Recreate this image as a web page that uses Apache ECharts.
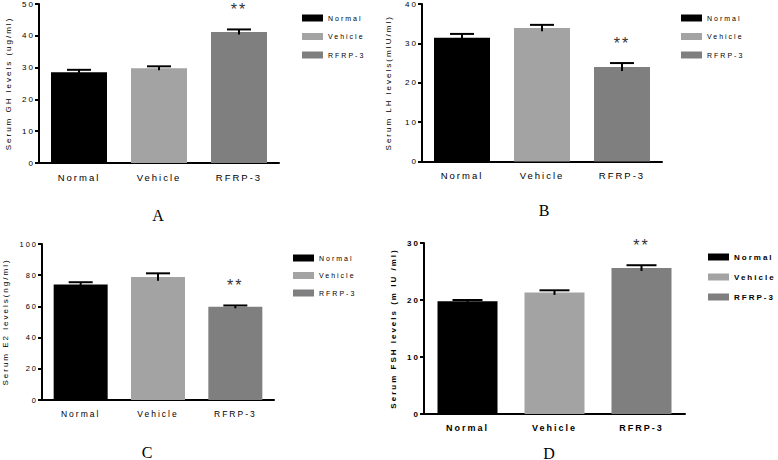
<!DOCTYPE html>
<html><head><meta charset="utf-8">
<script src="https://cdn.jsdelivr.net/npm/echarts@6/dist/echarts.min.js"></script>
<style>
html,body{margin:0;padding:0;background:#fff;}
#c{width:778px;height:460px;letter-spacing:2px;}
</style></head><body><div id="c"></div>
<script>
// ---- data ----
const groups = ['Normal', 'Vehicle', 'RFRP-3'];
const ghMean = [28.5, 29.8, 41.2];
const ghErr = [0.8, 0.6, 0.8];
const lhMean = [31.4, 33.9, 24.0];
const lhErr = [1.0, 0.8, 1.0];
const e2Mean = [74.0, 78.8, 59.7];
const e2Err = [1.5, 2.4, 0.9];
const fshMean = [19.8, 21.3, 25.6];
const fshErr = [0.2, 0.4, 0.5];
const signif = ['', '', '**'];
const panelLetters = ['A', 'B', 'C', 'D'];
const axisNames = ['Serum GH levels (ug/ml)', 'Serum LH levels(mIU/ml)', 'Serum E2 levels(ng/ml)', 'Serum FSH levels (m IU /ml)'];
const axisMax = [50, 40, 100, 30];
const axisInterval = [10, 10, 20, 10];

// ---- layout / style ----
const colors = ['#000000', '#a3a3a3', '#7f7f7f'];
const FONT = '"Liberation Sans", Arial, sans-serif';
const panels = [
  {mean: ghMean, err: ghErr, grid: {left: 39, top: 3, width: 240, height: 160}, nameGap: 27, barWidth: 56, capW: 24,
   legend: {left: 297, top: 8.5, itemGap: 9.5, lh: 9, fs: 7}, bold: false, letterPos: [159, 215], tickFs: 8, catFs: 9.5},
  {mean: lhMean, err: lhErr, grid: {left: 422, top: 3, width: 240, height: 158.5}, nameGap: 30, barWidth: 56, capW: 24,
   legend: {left: 676, top: 8.5, itemGap: 9.5, lh: 9, fs: 7}, bold: false, letterPos: [545, 210], tickFs: 8, catFs: 9.5},
  {mean: e2Mean, err: e2Err, grid: {left: 39, top: 244, width: 235, height: 156}, nameGap: 33, barWidth: 54, capW: 24,
   legend: {left: 288, top: 248.5, itemGap: 8.5, lh: 9, fs: 7}, bold: false, letterPos: [148, 452], tickFs: 7.5, catFs: 8.5},
  {mean: fshMean, err: fshErr, grid: {left: 424, top: 243, width: 261, height: 171}, nameGap: 27, barWidth: 60, capW: 30,
   legend: {left: 703, top: 247, itemGap: 10, lh: 10, fs: 8}, bold: true, letterPos: [550, 453], tickFs: 8, catFs: 9}
];

const option = {
  animation: false,
  backgroundColor: '#fff',
  grid: [], xAxis: [], yAxis: [], legend: [], series: [], graphic: []
};

panels.forEach((p, k) => {
  const fw = p.bold ? 'bold' : 'normal';
  option.grid.push(Object.assign({containLabel: false}, p.grid));
  option.xAxis.push({
    type: 'category', gridIndex: k, data: groups,
    axisLine: {lineStyle: {color: '#000', width: 2}},
    axisTick: {alignWithLabel: true, length: 4, lineStyle: {color: '#000', width: 2}},
    axisLabel: {color: '#000', fontSize: p.catFs, fontFamily: FONT, fontWeight: fw, margin: 9}
  });
  option.yAxis.push({
    type: 'value', gridIndex: k, min: 0, max: axisMax[k], interval: axisInterval[k],
    name: axisNames[k], nameLocation: 'middle', nameRotate: 90, nameGap: p.nameGap,
    nameTextStyle: {color: '#000', fontSize: 8, fontFamily: FONT, fontWeight: fw},
    axisLine: {show: true, lineStyle: {color: '#000', width: 2}},
    axisTick: {show: true, length: 4, lineStyle: {color: '#000', width: 2}},
    splitLine: {show: false},
    axisLabel: {color: '#000', fontSize: p.tickFs, fontFamily: FONT, fontWeight: fw, margin: 4}
  });
  option.legend.push({
    orient: 'vertical', left: p.legend.left, top: p.legend.top, itemGap: p.legend.itemGap,
    itemWidth: 21, itemHeight: 7, icon: 'rect', selectedMode: false, data: groups,
    textStyle: {color: '#000', fontSize: p.legend.fs, lineHeight: p.legend.lh, fontFamily: FONT, fontWeight: fw}
  });
  groups.forEach((g, gi) => {
    option.series.push({
      type: 'bar', name: g, xAxisIndex: k, yAxisIndex: k,
      barWidth: p.barWidth, barGap: '-100%',
      itemStyle: {color: colors[gi]},
      data: groups.map((_, i) => i === gi ? p.mean[i] : '-')
    });
  });
  option.series.push({
    type: 'custom', xAxisIndex: k, yAxisIndex: k, z: 5,
    encode: {x: 0, y: 1},
    data: groups.map((_, i) => [i, p.mean[i], p.err[i]]),
    renderItem: function (params, api) {
      const i = api.value(0), m = api.value(1), e = api.value(2);
      const top = api.coord([i, m + e]);
      const bot = api.coord([i, m - e]);
      const cw = p.capW / 2;
      const children = [
        {type: 'line', shape: {x1: top[0], y1: bot[1], x2: top[0], y2: top[1]}, style: {stroke: '#000', lineWidth: 2}},
        {type: 'line', shape: {x1: top[0] - cw, y1: top[1], x2: top[0] + cw, y2: top[1]}, style: {stroke: '#000', lineWidth: 2}}
      ];
      if (signif[i]) {
        children.push({type: 'text', style: {text: signif[i], x: top[0], y: top[1] - 20, align: 'center', verticalAlign: 'middle',
          font: '16px ' + FONT, fill: '#333'}});
      }
      return {type: 'group', children: children};
    }
  });
  option.graphic.push({
    type: 'text', x: p.letterPos[0], y: p.letterPos[1],
    style: {text: panelLetters[k], align: 'center', verticalAlign: 'middle', font: '16px "Liberation Serif", "Times New Roman", serif', fill: '#000'}
  });
});

const chart = echarts.init(document.getElementById('c'), null, {renderer: 'svg'});
chart.setOption(option);
</script>
</body></html>
